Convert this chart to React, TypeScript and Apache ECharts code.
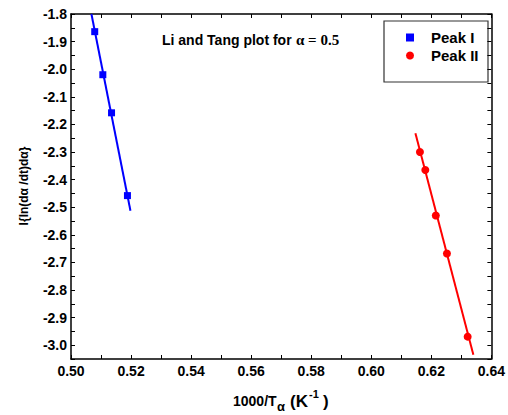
import React, { useEffect, useRef } from "react";
import * as echarts from "echarts";

const peak1X = [0.5079, 0.5106, 0.5135, 0.5188];
const peak1Y = [-1.864, -2.02, -2.158, -2.458];
const peak2X = [0.6162, 0.618, 0.6215, 0.6252, 0.6321];
const peak2Y = [-2.3, -2.365, -2.53, -2.668, -2.969];
const fit1X = [0.5068, 0.5198];
const fit1Y = [-1.8, -2.513];
const fit2X = [0.6147, 0.634];
const fit2Y = [-2.232, -3.035];

const seriesNames = ["Peak I", "Peak II"];
const titleMain = "Li and Tang plot for";
const titleAlpha = "α = 0.5";
const yName = "l{ln(dα /dt)dα}";

const zip = (xs: number[], ys: number[]) => xs.map((x, i) => [x, ys[i]]);

export default function App() {
  const ref = useRef<HTMLDivElement>(null);
  useEffect(() => {
    if (!ref.current) return;
    const chart = echarts.init(ref.current, undefined, { renderer: "svg" });
    const font = "Liberation Sans, Arial, sans-serif";
    const tickStyle = { show: true, inside: true, length: 4, lineStyle: { color: "#000", width: 1 } };
    const lineStyle = { show: true, lineStyle: { color: "#000", width: 1.5 } };
    chart.setOption({
      animation: false,
      backgroundColor: "#fff",
      grid: { left: 71, right: 13, top: 14, bottom: 56, containLabel: false },
      xAxis: [
        {
          type: "value",
          min: 0.5,
          max: 0.64,
          interval: 0.01,
          axisLine: lineStyle,
          axisTick: tickStyle,
          splitLine: { show: false },
          axisLabel: {
            margin: 5,
            color: "#000",
            fontFamily: font,
            fontWeight: "bold",
            fontSize: 14,
            formatter: (v: number) => (Math.round(v * 100) % 2 === 0 ? v.toFixed(2) : ""),
          },
        },
        {
          type: "value",
          position: "top",
          min: 0.5,
          max: 0.64,
          interval: 0.01,
          axisLine: lineStyle,
          axisTick: tickStyle,
          splitLine: { show: false },
          axisLabel: { show: false },
        },
      ],
      yAxis: [
        {
          type: "value",
          min: -3.05,
          max: -1.8,
          interval: 0.05,
          axisLine: lineStyle,
          axisTick: tickStyle,
          splitLine: { show: false },
          axisLabel: {
            margin: 4,
            color: "#000",
            fontFamily: font,
            fontWeight: "bold",
            fontSize: 14,
            formatter: (v: number) => (Math.round(v * 100) % 10 === 0 ? v.toFixed(1) : ""),
          },
        },
        {
          type: "value",
          position: "right",
          min: -3.05,
          max: -1.8,
          interval: 0.05,
          axisLine: lineStyle,
          axisTick: tickStyle,
          splitLine: { show: false },
          axisLabel: { show: false },
        },
      ],
      legend: {
        data: seriesNames,
        orient: "vertical",
        left: 406,
        top: 30,
        padding: 0,
        itemWidth: 8,
        itemHeight: 8,
        itemGap: 3,
        textStyle: {
          color: "#000",
          fontFamily: font,
          fontWeight: "bold",
          fontSize: 15,
          padding: [0, 0, 0, 12],
        },
      },
      series: [
        {
          type: "line",
          data: zip(fit1X, fit1Y),
          symbol: "none",
          lineStyle: { color: "#0000ff", width: 2 },
          silent: true,
        },
        {
          type: "line",
          data: zip(fit2X, fit2Y),
          symbol: "none",
          lineStyle: { color: "#ff0000", width: 2 },
          silent: true,
        },
        {
          name: seriesNames[0],
          type: "scatter",
          symbol: "rect",
          symbolSize: 7,
          itemStyle: { color: "#0000ff", opacity: 1 },
          data: zip(peak1X, peak1Y),
        },
        {
          name: seriesNames[1],
          type: "scatter",
          symbol: "circle",
          symbolSize: 8,
          itemStyle: { color: "#ff0000", opacity: 1 },
          data: zip(peak2X, peak2Y),
        },
      ],
      graphic: [
        {
          type: "rect",
          shape: { x: 384, y: 21, width: 104, height: 61 },
          style: { fill: "none", stroke: "#333", lineWidth: 1.2 },
        },
        {
          type: "text",
          x: 162,
          y: 40,
          style: {
            text: titleMain,
            fontFamily: font,
            fontWeight: "bold",
            fontSize: 14,
            fill: "#000",
            verticalAlign: "middle",
          },
        },
        {
          type: "text",
          x: 296,
          y: 40,
          style: {
            text: titleAlpha,
            fontFamily: "Liberation Serif, Times New Roman, serif",
            fontWeight: "bold",
            fontSize: 15,
            fill: "#000",
            verticalAlign: "middle",
          },
        },
        {
          type: "text",
          x: 24,
          y: 186,
          rotation: Math.PI / 2,
          style: {
            text: yName,
            fontFamily: font,
            fontWeight: "bold",
            fontSize: 12,
            fill: "#000",
            align: "center",
            verticalAlign: "middle",
          },
        },
        {
          type: "text",
          x: 233,
          y: 401,
          style: { text: "1000/T", fontFamily: font, fontWeight: "bold", fontSize: 14, fill: "#000", verticalAlign: "middle" },
        },
        {
          type: "text",
          x: 277,
          y: 406,
          style: { text: "α", fontFamily: font, fontWeight: "bold", fontSize: 13, fill: "#000", verticalAlign: "middle" },
        },
        {
          type: "text",
          x: 290,
          y: 401,
          style: { text: "(K", fontFamily: font, fontWeight: "bold", fontSize: 17, fill: "#000", verticalAlign: "middle" },
        },
        {
          type: "text",
          x: 309,
          y: 394,
          style: { text: "-1", fontFamily: font, fontWeight: "bold", fontSize: 11, fill: "#000", verticalAlign: "middle" },
        },
        {
          type: "text",
          x: 323,
          y: 401,
          style: { text: ")", fontFamily: font, fontWeight: "bold", fontSize: 17, fill: "#000", verticalAlign: "middle" },
        },
      ],
    });
    return () => chart.dispose();
  }, []);
  return <div ref={ref} style={{ width: 508, height: 415, position: "absolute", left: 0, top: 0 }} />;
}
